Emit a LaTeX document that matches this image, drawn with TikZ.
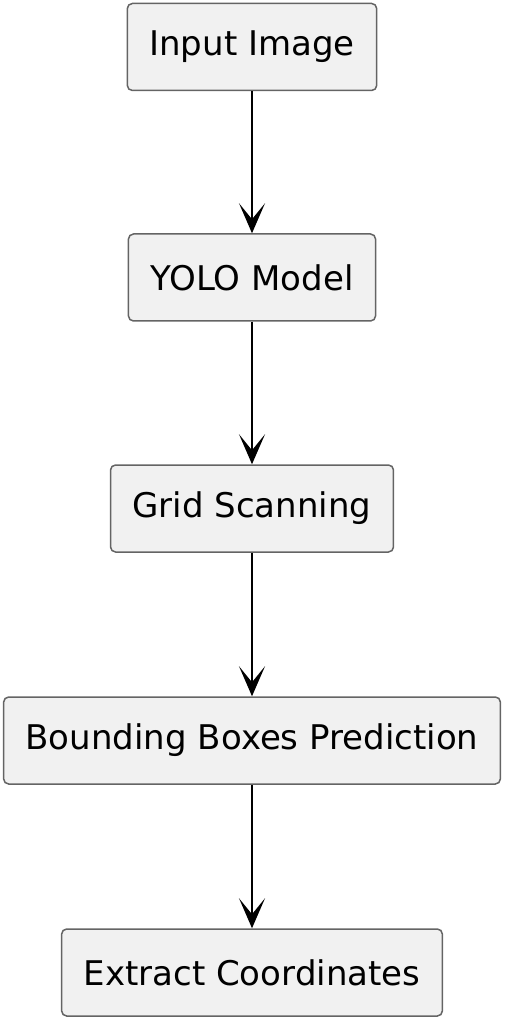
\documentclass[tikz,border=0pt]{standalone}
\usepackage{fontspec}
\setmainfont{DejaVu Sans}
\usepackage{tikz}
\usetikzlibrary{arrows.meta,positioning}
\definecolor{boxfill}{HTML}{F1F1F1}
\definecolor{boxline}{HTML}{646464}

\begin{document}
\begin{tikzpicture}[>={Stealth[length=15pt,width=13pt,inset=8pt]},x=0.5pt,y=-0.5pt,
		stepbox/.style={draw=boxline, fill=boxfill, line width=0.75pt, rounded corners=2.5pt, minimum height=43.5pt, inner xsep=11pt, font=\fontsize{17}{20}\selectfont},
		flow/.style={black, line width=1pt, ->}]
		\useasboundingbox (0,0) rectangle (505,1020);

		\node (input) at (252,47) 	[stepbox] {Input Image};
		\node (yolo) at (252,277.5) 	[stepbox] {YOLO Model};
		\node (grid) at (252,508.5) 	[stepbox] {Grid Scanning};
		\node (bbox) at (252,740.5) 	[stepbox] {Bounding Boxes Prediction};
		\node (coords) at (252,972.5) 	[stepbox] {Extract Coordinates};

		\draw [flow] (input) -- (yolo);
		\draw [flow] (yolo) -- (grid);
		\draw [flow] (grid) -- (bbox);
		\draw [flow] (bbox) -- (coords);
	\end{tikzpicture}
\end{document}
